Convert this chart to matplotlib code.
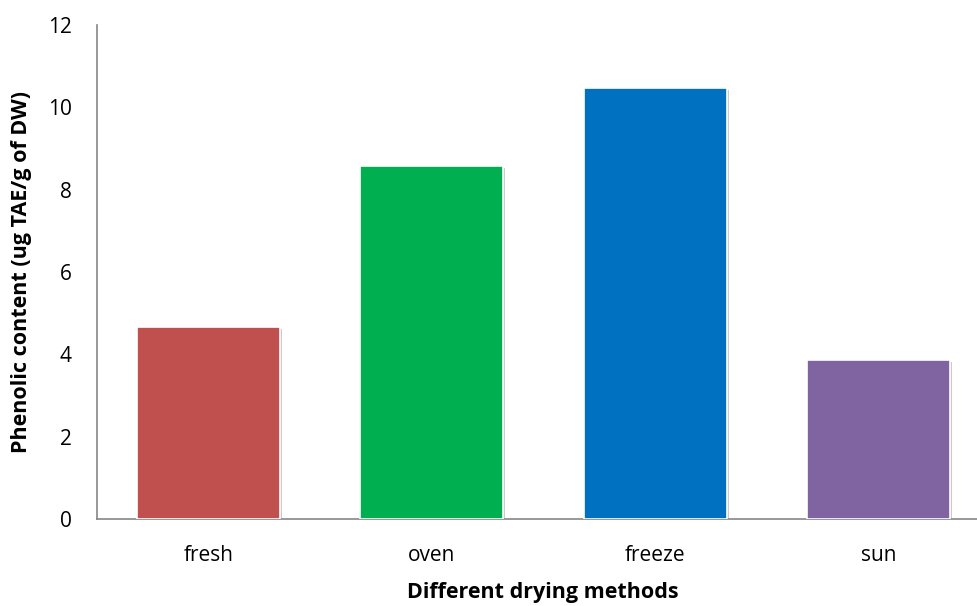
import matplotlib
matplotlib.use("Agg")
import matplotlib.pyplot as plt
import matplotlib.patheffects as pe

# drying method vs phenolic content
methods = ["fresh", "oven", "freeze", "sun"]
phenolic = [4.67, 8.57, 10.47, 3.87]
bar_colors = ["#C0504D", "#00B050", "#0070C0", "#8064A2"]
yticks = [0, 2, 4, 6, 8, 10, 12]

plt.rcParams['font.family'] = ['Open Sans', 'DejaVu Sans']

fig = plt.figure(figsize=(9.78, 6.06), dpi=100)
ax = fig.add_axes([97/978, 87/606, 893/978, 494/606])

shadow = [pe.SimplePatchShadow(offset=(1.5, -1.5), shadow_rgbFace="#999999", alpha=0.5), pe.Normal()]
bars = ax.bar(range(len(methods)), phenolic, width=0.64, color=bar_colors,
              edgecolor="white", linewidth=1.2, zorder=3)
for b in bars:
    b.set_path_effects(shadow)

ax.set_xlim(-0.5, 3.5)
ax.set_ylim(0, 12)
ax.set_yticks(yticks)
ax.set_yticklabels([str(t) for t in yticks])
ax.set_xticks(range(len(methods)))
ax.set_xticklabels(methods)
ax.tick_params(axis="both", length=0, labelsize=15)
ax.tick_params(axis="y", pad=18)
ax.tick_params(axis="x", pad=19)

for s in ["top", "right"]:
    ax.spines[s].set_visible(False)
for s in ["left", "bottom"]:
    ax.spines[s].set_color("#868686")
    ax.spines[s].set_linewidth(1.2)

fig.text(22/978, 1 - 272/606, "Phenolic content (ug TAE/g of DW)", fontsize=15.5,
         fontweight="bold", rotation=90, ha="center", va="center")
fig.text(543/978, 3/606, "Different drying methods", fontsize=15.5, fontweight="bold",
         ha="center", va="bottom")

plt.savefig("out.png", dpi=100)
plt.close()
